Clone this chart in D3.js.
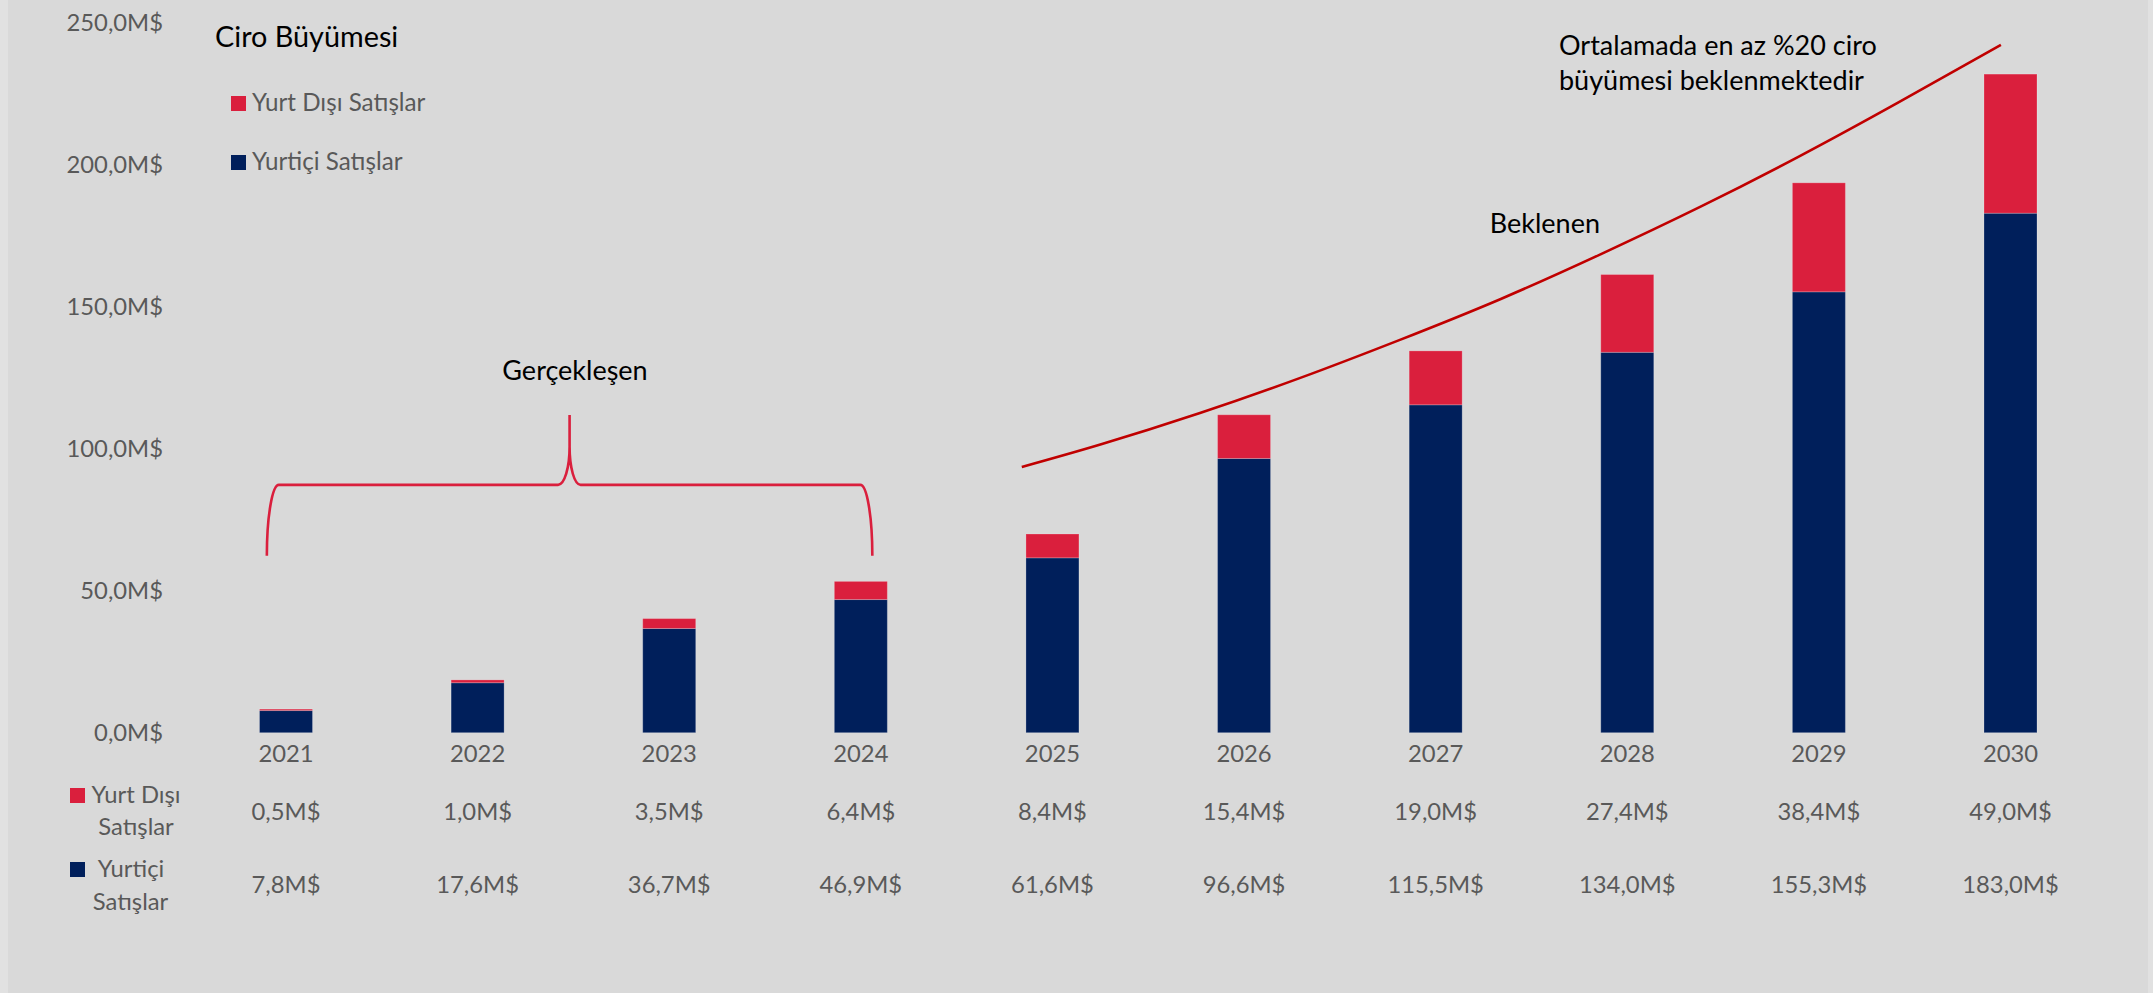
<!DOCTYPE html>
<html lang="tr">
<head>
<meta charset="utf-8">
<title>Ciro Büyümesi</title>
<script src="https://cdn.jsdelivr.net/npm/d3@7"></script>
<style>
  html, body { margin: 0; padding: 0; background: #D9D9D9; }
  svg { display: block; }
  text { font-family: Lato, "Open Sans", sans-serif; }
</style>
</head>
<body>
<svg id="chart" width="2153" height="993"></svg>
<script>
// ---- Data ----
const years = ["2021", "2022", "2023", "2024", "2025", "2026", "2027", "2028", "2029", "2030"];
const yurtIci = [7.8, 17.6, 36.7, 46.9, 61.6, 96.6, 115.5, 134.0, 155.3, 183.0];   // Yurtiçi Satışlar (M$)
const yurtDisi = [0.5, 1.0, 3.5, 6.4, 8.4, 15.4, 19.0, 27.4, 38.4, 49.0];          // Yurt Dışı Satışlar (M$)
const yTicks = [0, 50, 100, 150, 200, 250];

// Expected growth curve (year position, M$)
const trendYears  = [2024.84, 2025.25, 2025.77, 2026.29, 2026.81, 2027.34, 2027.86, 2028.38, 2028.90, 2029.42, 2029.95];
const trendValues = [93.6, 101.5, 112.6, 124.9, 138.3, 152.8, 168.5, 185.2, 203.1, 222.2, 242.3];

// Bracket over the realised years (year position, M$)
const bracketYears  = [2020.90, 2022.48, 2024.06];   // left, tip, right
const bracketValues = [62.3, 87.3, 111.9];           // foot, bar, tip

const seriesNames = ["Yurt Dışı Satışlar", "Yurtiçi Satışlar"];
const colors = { disi: "#DA1F3D", ici: "#001F5B", trend: "#C00000", text: "#595959" };
const labelSize = "23.8px", noteSize = "27px";

// ---- Canvas ----
const svg = d3.select("#chart");
const W = 2153, H = 993;

svg.append("rect").attr("width", W).attr("height", H).attr("fill", "#D9D9D9");
svg.append("rect").attr("x", 0).attr("y", 0).attr("width", 8).attr("height", H).attr("fill", "#E1E1E1");
svg.append("rect").attr("x", 2148).attr("y", 0).attr("width", 5).attr("height", H).attr("fill", "#E1E1E1");

// ---- Scales ----
const x = d3.scaleBand().domain(years).range([190.2, 2106.3])
  .paddingInner(0.7234).paddingOuter(0.3617);
const y = d3.scaleLinear().domain([0, 250]).range([732.7, 23]);
const xc = d => x(d) + x.bandwidth() / 2;
const xYear = d3.scaleLinear().domain([2021, 2030]).range([xc("2021"), xc("2030")]);

const locale = d3.formatLocale({ decimal: ",", thousands: ".", grouping: [3], currency: ["", "M$"] });
const fmt = v => locale.format(".1f")(v) + "M$";

// ---- Y axis ----
const yAxis = svg.append("g")
  .attr("transform", "translate(166,0)")
  .call(d3.axisLeft(y).tickValues(yTicks).tickSize(0).tickPadding(3).tickFormat(fmt));
yAxis.select(".domain").remove();
yAxis.selectAll("text")
  .attr("fill", colors.text).style("font-size", labelSize).style("font-family", "Lato");

// ---- Stacked bars ----
const rows = years.map((yr, i) => ({ year: yr, ici: yurtIci[i], disi: yurtDisi[i] }));
const stack = d3.stack().keys(["ici", "disi"])(rows);

svg.append("g").selectAll("g")
  .data(stack).join("g")
  .attr("fill", d => d.key === "ici" ? colors.ici : colors.disi)
  .selectAll("rect")
  .data(d => d).join("rect")
  .attr("x", d => x(d.data.year))
  .attr("width", x.bandwidth())
  .attr("y", d => y(d[1]))
  .attr("height", d => y(d[0]) - y(d[1]))
  .attr("stroke", "rgba(255,255,255,0.22)")
  .attr("stroke-width", 1);

// ---- X axis (year labels) ----
const xAxis = svg.append("g")
  .attr("transform", `translate(0,${y(0)})`)
  .call(d3.axisBottom(x).tickSize(0).tickPadding(12));
xAxis.select(".domain").remove();
xAxis.selectAll("text")
  .attr("fill", colors.text).style("font-size", labelSize).style("font-family", "Lato");

// ---- Data table rows ----
const tableRows = [
  { values: yurtDisi, color: colors.disi, baseline: 820, square: 788, lines: ["Yurt Dışı", "Satışlar"], cx: [136, 136], lb: [803, 835] },
  { values: yurtIci,  color: colors.ici,  baseline: 893, square: 862, lines: ["Yurtiçi", "Satışlar"],  cx: [131, 130.5], lb: [877, 910] }
];
tableRows.forEach(r => {
  svg.append("g").selectAll("text")
    .data(years).join("text")
    .attr("x", d => xc(d))
    .attr("y", r.baseline)
    .attr("text-anchor", "middle")
    .attr("fill", colors.text)
    .style("font-size", labelSize)
    .text((d, i) => fmt(r.values[i]));
  svg.append("rect").attr("x", 70).attr("y", r.square).attr("width", 15).attr("height", 15).attr("fill", r.color);
  r.lines.forEach((t, j) => {
    svg.append("text").attr("x", r.cx[j]).attr("y", r.lb[j])
      .attr("text-anchor", "middle").attr("fill", colors.text)
      .style("font-size", labelSize).text(t);
  });
});

// ---- Title and legend ----
svg.append("text").attr("x", 215).attr("y", 46.7)
  .attr("fill", "#000").style("font-size", "28.8px").text("Ciro Büyümesi");

const legend = svg.append("g");
[{ name: seriesNames[0], color: colors.disi, top: 96, base: 110.7 },
 { name: seriesNames[1], color: colors.ici, top: 155, base: 170 }].forEach(l => {
  legend.append("rect").attr("x", 231).attr("y", l.top).attr("width", 15).attr("height", 15).attr("fill", l.color);
  legend.append("text").attr("x", 252).attr("y", l.base)
    .attr("fill", colors.text).style("font-size", "24.2px").text(l.name);
});

// ---- Bracket: Gerçekleşen ----
const bl = xYear(bracketYears[0]), bm = xYear(bracketYears[1]), br = xYear(bracketYears[2]);
const yFoot = y(bracketValues[0]), yBar = y(bracketValues[1]), yTip = y(bracketValues[2]);
const rc = 12, k = 0.5523, spikeH = 38;
const bracket = d3.path();
bracket.moveTo(bl, yFoot);
bracket.bezierCurveTo(bl, yBar + (yFoot - yBar) * (1 - k), bl + rc * (1 - k), yBar, bl + rc, yBar);
bracket.lineTo(bm - 11.5, yBar);
bracket.bezierCurveTo(bm - 11.5 + 11.5 * k, yBar, bm, yBar - spikeH * (1 - k), bm, yBar - spikeH);
bracket.lineTo(bm, yTip);
bracket.moveTo(bm, yBar - spikeH);
bracket.bezierCurveTo(bm, yBar - spikeH * (1 - k), bm + 11 - 11 * k, yBar, bm + 11, yBar);
bracket.lineTo(br - rc, yBar);
bracket.bezierCurveTo(br - rc * (1 - k), yBar, br, yBar + (yFoot - yBar) * (1 - k), br, yFoot);
svg.append("path").attr("d", bracket.toString())
  .attr("fill", "none").attr("stroke", colors.disi).attr("stroke-width", 2.6);

svg.append("text").attr("x", 575).attr("y", 380).attr("text-anchor", "middle")
  .attr("fill", "#000").style("font-size", noteSize).text("Gerçekleşen");

// ---- Expected growth curve ----
const trend = trendYears.map((t, i) => [t, trendValues[i]]);
svg.append("path")
  .datum(trend)
  .attr("d", d3.line().x(d => xYear(d[0])).y(d => y(d[1])).curve(d3.curveNatural))
  .attr("fill", "none").attr("stroke", colors.trend).attr("stroke-width", 2.6);

svg.append("text").attr("x", 1600).attr("y", 233).attr("text-anchor", "end")
  .attr("fill", "#000").style("font-size", noteSize).text("Beklenen");

const note = svg.append("text").attr("fill", "#000").style("font-size", noteSize);
note.append("tspan").attr("x", 1559).attr("y", 55).text("Ortalamada en az %20 ciro");
note.append("tspan").attr("x", 1559).attr("y", 90).text("büyümesi beklenmektedir");
</script>
</body>
</html>
